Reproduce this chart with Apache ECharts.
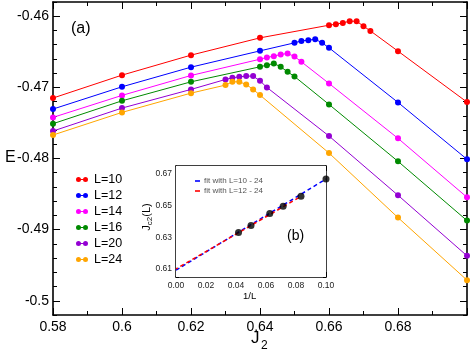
<!DOCTYPE html>
<html><head><meta charset="utf-8">
<script src="https://cdn.jsdelivr.net/npm/echarts@6/dist/echarts.min.js"></script>
<style>html,body{margin:0;padding:0;background:#fff}#c{width:471px;height:354px}</style>
</head><body><div id="c"></div>
<script>
// ---- data ----
const J10 = [0.58,0.60,0.62,0.64,0.66,0.662,0.664,0.666,0.668,0.670,0.672,0.68,0.70];
const E10 = [-0.4715,-0.46828,-0.46547,-0.46304,-0.46126,-0.46112,-0.46094,-0.4607,-0.4607,-0.4614,-0.46206,-0.46491,-0.47207];
const J12 = [0.58,0.60,0.62,0.64,0.65,0.652,0.654,0.656,0.658,0.66,0.68,0.70];
const E12 = [-0.47305,-0.46992,-0.46716,-0.46487,-0.46374,-0.46347,-0.46337,-0.46323,-0.46374,-0.46444,-0.47212,-0.48011];
const J14 = [0.58,0.60,0.62,0.64,0.642,0.644,0.646,0.648,0.65,0.652,0.66,0.68,0.70];
const E14 = [-0.47422,-0.47113,-0.46833,-0.46604,-0.4658,-0.46561,-0.46538,-0.46524,-0.46566,-0.46641,-0.46945,-0.47717,-0.48545];
const J16 = [0.58,0.60,0.62,0.64,0.642,0.644,0.646,0.648,0.65,0.66,0.68,0.70];
const E16 = [-0.47511,-0.47189,-0.46922,-0.46711,-0.46688,-0.46664,-0.46711,-0.46782,-0.46847,-0.4724,-0.4804,-0.48873];
const J20 = [0.58,0.60,0.62,0.63,0.632,0.634,0.636,0.638,0.64,0.642,0.66,0.68,0.70];
const E20 = [-0.47614,-0.47291,-0.47029,-0.46889,-0.46866,-0.46852,-0.46842,-0.46842,-0.46908,-0.47001,-0.47684,-0.48517,-0.49368];
const J24 = [0.58,0.60,0.62,0.63,0.632,0.634,0.636,0.638,0.64,0.66,0.68,0.70];
const E24 = [-0.4767,-0.47352,-0.47081,-0.46968,-0.46922,-0.46922,-0.46959,-0.47029,-0.47109,-0.47923,-0.48831,-0.4971];

const seriesNames = ['L=10','L=12','L=14','L=16','L=20','L=24'];
const seriesColors = ['#ff0000','#0000ff','#ff00ff','#008a00','#9400d3','#ffa500'];

// inset (b)
const invL = [0.1, 0.08333, 0.07143, 0.0625, 0.05, 0.04167];
const Jc2 = [0.6668, 0.6559, 0.6496, 0.6450, 0.6374, 0.6330];
const fitA_x = [0, 0.1];      // fit with L=10 - 24
const fitA_y = [0.6093, 0.6668];
const fitB_x = [0, 0.08333];  // fit with L=12 - 24
const fitB_y = [0.6101, 0.6558];

// ticks
const mainYMajor = [-0.5,-0.49,-0.48,-0.47,-0.46];
const mainYMinor = [-0.502,-0.5,-0.498,-0.496,-0.494,-0.492,-0.49,-0.488,-0.486,-0.484,-0.482,-0.48,-0.478,-0.476,-0.474,-0.472,-0.47,-0.468,-0.466,-0.464,-0.462,-0.46,-0.458];
const insetYMajor = [0.61,0.63,0.65,0.67];
const insetYMinor = [0.605,0.61,0.615,0.62,0.625,0.63,0.635,0.64,0.645,0.65,0.655,0.66,0.665,0.67,0.675];

const FONT = 'Liberation Sans, Arial, Helvetica, sans-serif';
const zip = (a,b) => a.map((v,i)=>[v,b[i]]);
const mainData = [zip(J10,E10),zip(J12,E12),zip(J14,E14),zip(J16,E16),zip(J20,E20),zip(J24,E24)];

const chart = echarts.init(document.getElementById('c'), null, {renderer:'canvas'});

function xAx(grid, pos, min, max, interval, showLabels, labelOpt, lw) {
  return {
    type:'value', gridIndex:grid, position:pos, min, max, interval,
    axisLine:{show:true, onZero:false, lineStyle:{color:'#000', width:lw}},
    axisTick:{show:true, inside:true, length: grid===0?7:5, lineStyle:{color:'#000', width:1}},
    minorTick:{show:true, splitNumber:2, length: grid===0?4:3, lineStyle:{color:'#000', width:1}},
    splitLine:{show:false}, minorSplitLine:{show:false},
    axisLabel: showLabels ? labelOpt : {show:false}
  };
}
function yAx(grid, pos, min, max, ticks, len, showLine, labelOpt, lw) {
  return {
    type:'value', gridIndex:grid, position:pos, min, max,
    axisLine:{show:showLine, onZero:false, lineStyle:{color:'#000', width:lw}},
    axisTick:{show:true, inside:true, length:len, customValues:ticks, lineStyle:{color:'#000', width:1}},
    splitLine:{show:false},
    axisLabel: labelOpt ? Object.assign({customValues:ticks}, labelOpt) : {show:false}
  };
}

const mainLabel = {show:true, color:'#000', fontSize:14, fontFamily:FONT, margin:5, showMaxLabel:false};
const insetLabel = {show:true, color:'#222', fontSize:8.5, fontFamily:FONT, margin:4};

const series = [];
mainData.forEach((d,i)=>{
  series.push({
    name:seriesNames[i], type:'line', xAxisIndex:0, yAxisIndex:0, data:d,
    symbol:'circle', symbolSize:6, clip:false,
    lineStyle:{color:seriesColors[i], width:1}, itemStyle:{color:seriesColors[i]},
    emphasis:{disabled:true}, animation:false, z:3
  });
});
series.push({
  name:'fit with L=10 - 24', type:'line', xAxisIndex:2, yAxisIndex:4, data:zip(fitA_x,fitA_y),
  symbol:'none', lineStyle:{color:'#0000ff', width:1.5, type:[4,3]}, itemStyle:{color:'#0000ff'},
  animation:false, z:3
});
series.push({
  name:'fit with L=12 - 24', type:'line', xAxisIndex:2, yAxisIndex:4, data:zip(fitB_x,fitB_y),
  symbol:'none', lineStyle:{color:'#ff0000', width:1.5, type:[4,3], dashOffset:2}, itemStyle:{color:'#ff0000'},
  animation:false, z:4
});
series.push({
  name:'Jc2', type:'scatter', xAxisIndex:2, yAxisIndex:4, data:zip(invL,Jc2),
  symbol:'circle', symbolSize:7, itemStyle:{color:'#000'}, animation:false, z:5, clip:false
});

const legendIcon = 'path://M0,2.5A2.5,2.5 0 1 1 5,2.5A2.5,2.5 0 1 1 0,2.5Z M7,2.5A2.5,2.5 0 1 1 12,2.5A2.5,2.5 0 1 1 7,2.5Z M4,2L8,2L8,3L4,3Z';

const option = {
  backgroundColor:'#fff',
  animation:false,
  grid:[
    {left:53, right:4, top:2, bottom:39, show:false},
    {left:176, top:166, width:150, height:111, show:true, backgroundColor:'#fff', borderWidth:0, z:1}
  ],
  xAxis:[
    xAx(0,'bottom',0.58,0.70,0.02,true,mainLabel,1.6),
    xAx(0,'top',0.58,0.70,0.02,false,null,1.6),
    xAx(1,'bottom',0,0.1,0.02,true,Object.assign({formatter:v=>v.toFixed(2)},insetLabel),1.5),
    xAx(1,'top',0,0.1,0.02,false,null,1.5)
  ],
  yAxis:[
    yAx(0,'left',-0.502,-0.458,mainYMajor,7,true,{show:true,color:'#000',fontSize:14,fontFamily:FONT,margin:4},1.6),
    yAx(0,'left',-0.502,-0.458,mainYMinor,4,false,null,1.6),
    yAx(0,'right',-0.502,-0.458,mainYMajor,7,true,null,1.6),
    yAx(0,'right',-0.502,-0.458,mainYMinor,4,false,null,1.6),
    yAx(1,'left',0.605,0.675,insetYMajor,5,true,Object.assign({formatter:v=>v.toFixed(2)},insetLabel),1.5),
    yAx(1,'left',0.605,0.675,insetYMinor,3,false,null,1.5),
    yAx(1,'right',0.605,0.675,insetYMajor,5,true,null,1.5),
    yAx(1,'right',0.605,0.675,insetYMinor,3,false,null,1.5)
  ],
  legend:[
    {data:seriesNames, orient:'vertical', left:71, top:168, itemGap:3, itemWidth:12, itemHeight:5,
     icon:legendIcon, itemStyle:{borderWidth:0},
     textStyle:{color:'#000', fontSize:12.5, fontFamily:FONT, padding:[0,0,0,1]}, selectedMode:false},
    {data:['fit with L=10 - 24','fit with L=12 - 24'], orient:'vertical', left:190, top:172, itemGap:2,
     itemWidth:5, itemHeight:1.6, icon:'rect', itemStyle:{borderWidth:0},
     textStyle:{color:'#555', fontSize:8, fontFamily:FONT, padding:[0,0,0,-1]}, selectedMode:false}
  ],
  graphic:[
    {type:'text', left:5, top:150, style:{text:'E', font:'16px '+FONT, fill:'#000'}},
    {type:'text', left:251, top:330, style:{text:'J', font:'17px '+FONT, fill:'#000'}},
    {type:'text', left:261, top:340, style:{text:'2', font:'12px '+FONT, fill:'#000'}},
    {type:'text', left:71, top:21, style:{text:'(a)', font:'16px '+FONT, fill:'#000'}},
    {type:'text', left:287, top:229, style:{text:'(b)', font:'14px '+FONT, fill:'#000'}, z:10},
    {type:'text', left:243, top:291, style:{text:'1/L', font:'9.5px '+FONT, fill:'#000'}, z:10},
    {type:'text', x:147, y:217, rotation:Math.PI/2, z:10,
     style:{text:'{a|J}{b|c2}{a|(L)}', align:'center', verticalAlign:'middle',
            rich:{a:{fontSize:11, fontFamily:FONT, fill:'#000'}, b:{fontSize:8, fontFamily:FONT, fill:'#000', padding:[5,0,0,0]}}}}
  ],
  series
};
chart.setOption(option);
</script></body></html>
